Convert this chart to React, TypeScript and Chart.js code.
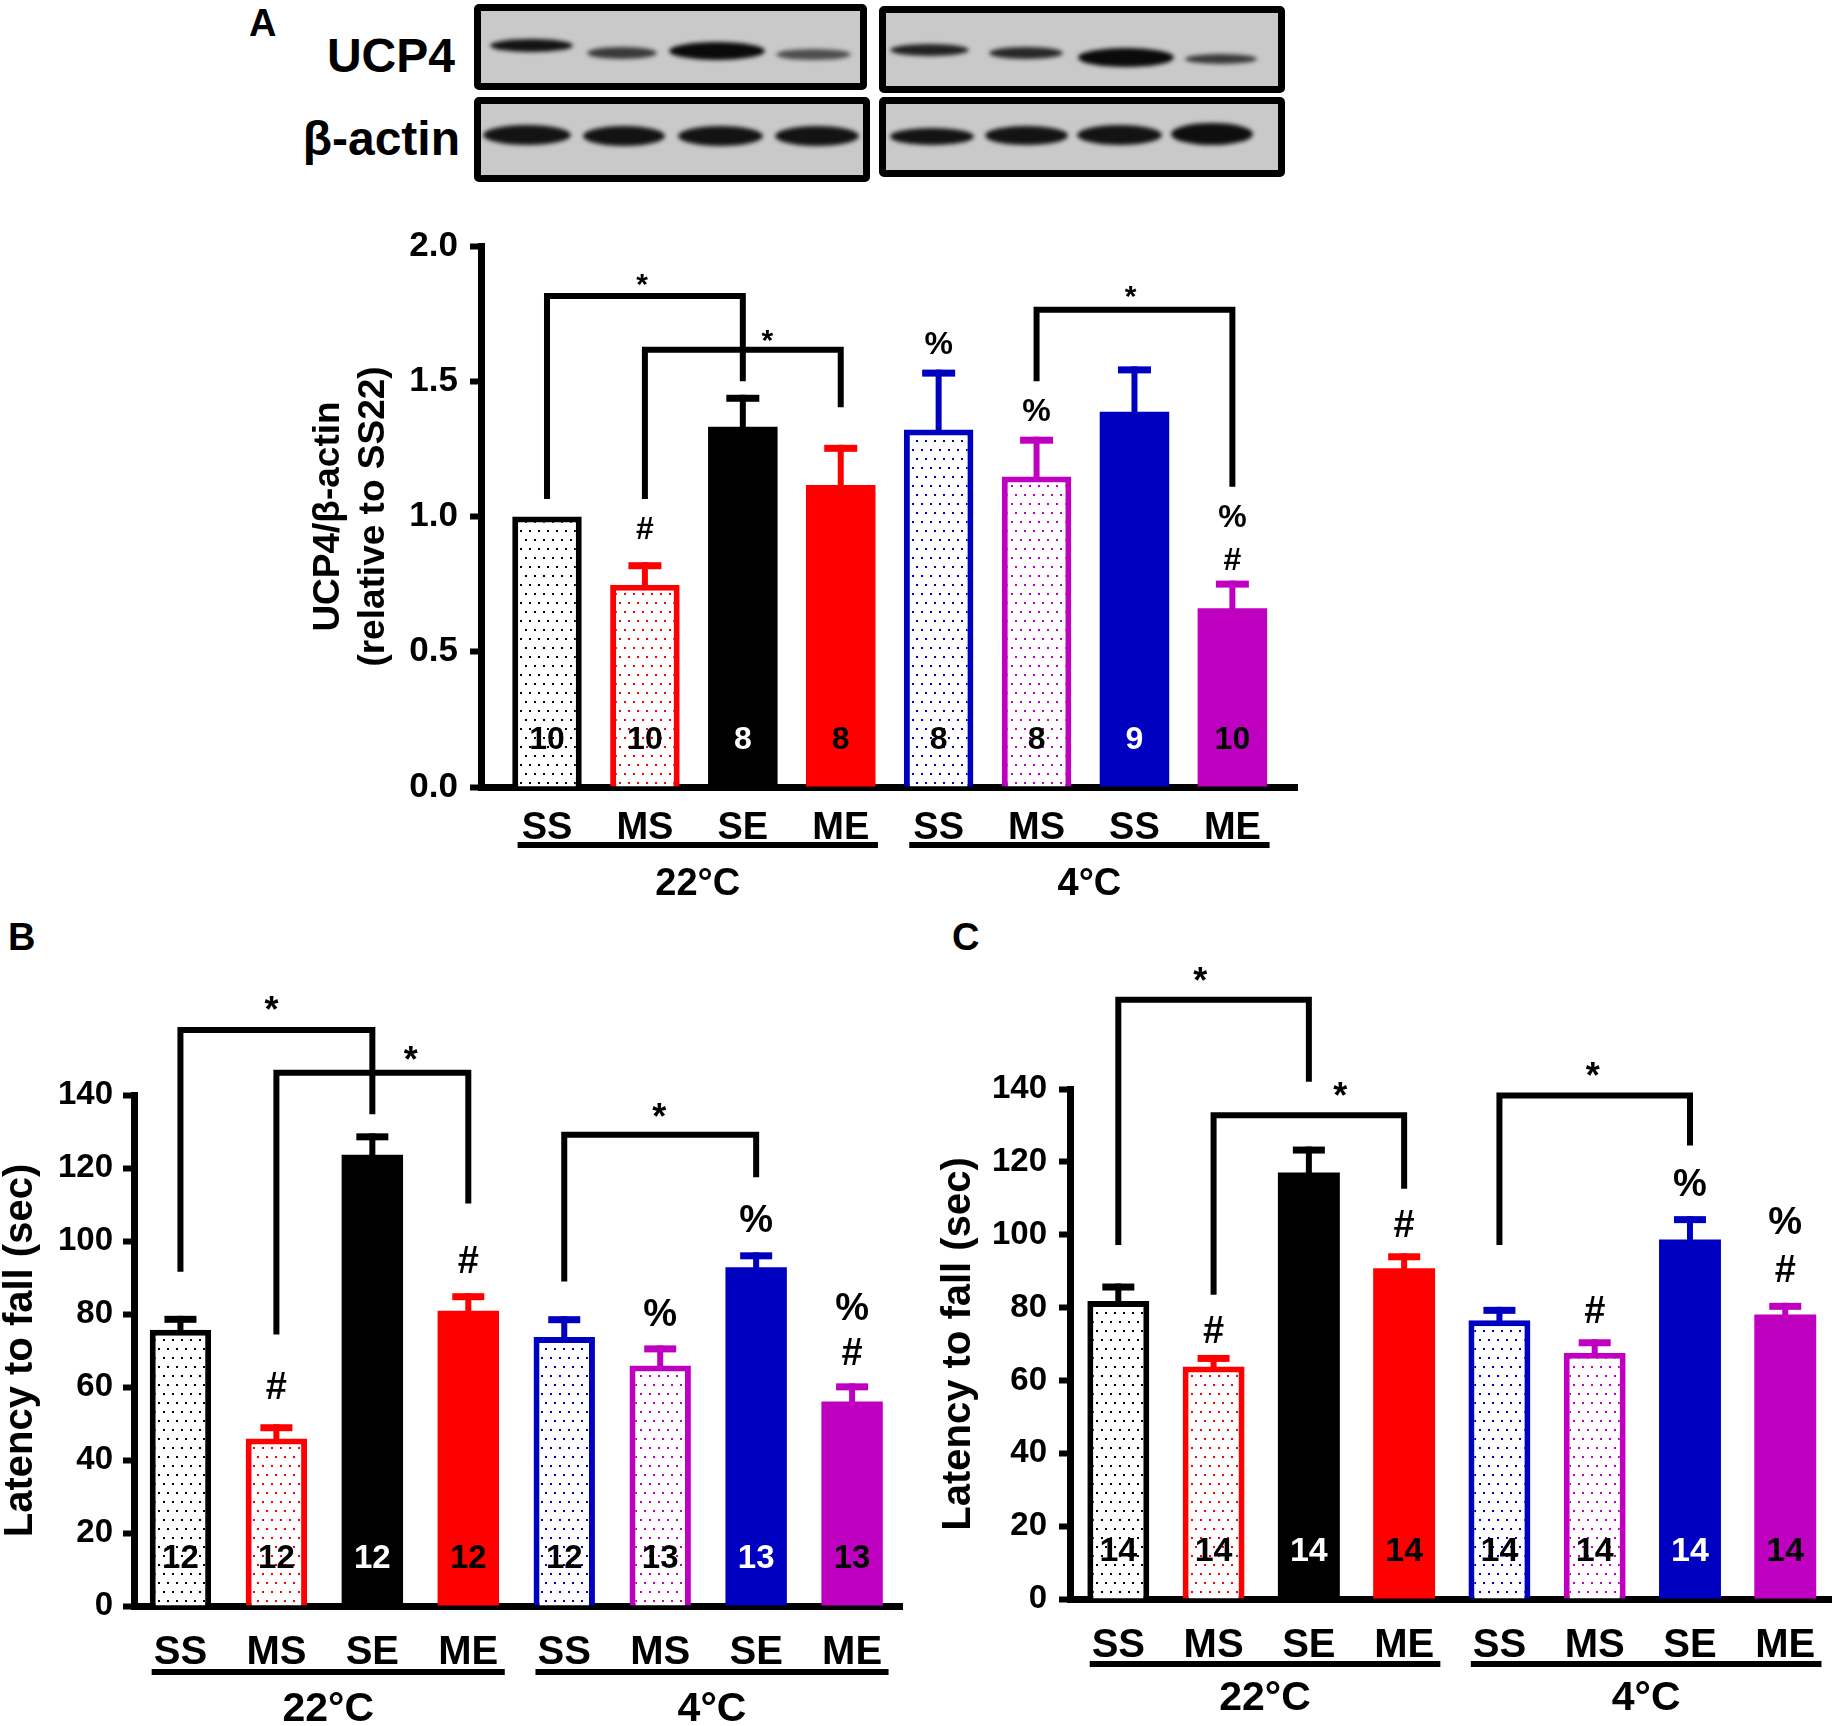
import React, { useEffect, useRef } from 'react';
import { Chart, registerables } from 'chart.js';

Chart.register(...registerables);

const FONT = 'Arial, "Liberation Sans", Helvetica, sans-serif';

// ---- data ----
const groupNames = ['22°C', '4°C'];
const groupStarts = [0, 4];
const groupEnds = [3, 7];

// A: UCP4 / beta-actin
const ucpCategories = ['SS', 'MS', 'SE', 'ME', 'SS', 'MS', 'SS', 'ME'];
const ucpMean = [1.0, 0.748, 1.332, 1.116, 1.322, 1.148, 1.387, 0.661];
const ucpSemTop = [1.0, 0.831, 1.45, 1.265, 1.543, 1.295, 1.555, 0.763];
const ucpN = ['10', '10', '8', '8', '8', '8', '9', '10'];
const ucpTicks = [0, 0.5, 1.0, 1.5, 2.0];
// [from, to, left leg end, bar height, right leg end, star x, star y]
const ucpBrackets = [
  [0, 2, 1.065, 1.815, 1.5, 0.97, 1.885],
  [1, 3, 1.065, 1.616, 1.404, 2.25, 1.68],
  [5, 7, 1.5, 1.764, 1.11, 5.96, 1.84],
];
// [bar, symbol, y]
const ucpMarks = [
  [1, '#', 0.958],
  [4, '%', 1.642],
  [5, '%', 1.397],
  [7, '%', 1.002],
  [7, '#', 0.846],
];

// B: latency to fall
const rotaCategories = ['SS', 'MS', 'SE', 'ME', 'SS', 'MS', 'SE', 'ME'];
const rotaMean = [75.7, 45.9, 123.6, 80.9, 73.7, 65.9, 92.8, 56.0];
const rotaSemTop = [79.5, 49.8, 129.5, 85.7, 79.4, 71.4, 96.9, 61.0];
const rotaN = ['12', '12', '12', '12', '12', '13', '13', '13'];
const rotaBrackets = [
  [0, 2, 91.6, 157.8, 134.7, 0.95, 165.5],
  [1, 3, 74.4, 146.1, 110.3, 2.4, 152],
  [4, 6, 88.9, 129.1, 117.5, 4.99, 136.2],
];
const rotaMarks = [
  [1, '#', 60.4],
  [3, '#', 95],
  [5, '%', 80.4],
  [6, '%', 106.2],
  [7, '%', 82.2],
  [7, '#', 69.9],
];

// C: latency to fall
const rotcCategories = ['SS', 'MS', 'SE', 'ME', 'SS', 'MS', 'SE', 'ME'];
const rotcMean = [81.8, 63.8, 117.1, 90.8, 76.5, 67.6, 98.7, 78.1];
const rotcSemTop = [86.6, 67.0, 124.2, 94.9, 80.2, 71.3, 105.1, 81.3];
const rotcN = ['14', '14', '14', '14', '14', '14', '14', '14'];
const rotcBrackets = [
  [0, 2, 97.2, 164.5, 142, 0.86, 172],
  [1, 3, 83.5, 132.8, 112.6, 2.33, 140.3],
  [4, 6, 97.2, 138.2, 124.5, 4.98, 146],
];
const rotcMarks = [
  [1, '#', 74],
  [3, '#', 103],
  [5, '#', 79.4],
  [6, '%', 114.5],
  [7, '%', 104],
  [7, '#', 90.8],
];

const latencyTicks = [0, 20, 40, 60, 80, 100, 120, 140];

// ---- styling ----
const barColors = ['#000000', '#ff0000', '#000000', '#ff0000', '#0000c0', '#c000c0', '#0000c0', '#c000c0'];
const barHollow = [true, true, false, false, true, true, false, false];
const countColors = ['#000', '#000', '#fff', '#000', '#000', '#000', '#fff', '#000'];

function dotPattern(color: string): CanvasPattern | string {
  const c = document.createElement('canvas');
  c.width = 9;
  c.height = 18;
  const g = c.getContext('2d');
  if (!g) return '#fff';
  g.fillStyle = '#fff';
  g.fillRect(0, 0, 9, 18);
  g.fillStyle = color;
  g.fillRect(1, 1, 2, 2);
  g.fillRect(5, 10, 2, 2);
  return g.createPattern(c, 'repeat') || '#fff';
}

const BarPanel = (p: any) => {
  const chartRef = useRef<HTMLCanvasElement | null>(null);
  const chartInstance = useRef<Chart | null>(null);

  useEffect(() => {
    if (!chartRef.current) return;
    const ctx = chartRef.current.getContext('2d');
    if (!ctx) return;
    if (chartInstance.current) chartInstance.current.destroy();

    const decor = {
      id: 'decor',
      afterDatasetsDraw(chart: any) {
        const c = chart.ctx;
        const xs = chart.scales.x;
        const ys = chart.scales.y;
        const bottom = chart.chartArea.bottom;
        const unit = xs.getPixelForValue(1) - xs.getPixelForValue(0);
        c.save();
        // error bars (upper only)
        p.means.forEach((m: number, i: number) => {
          const top = p.semTop[i];
          if (top <= m) return;
          const x = xs.getPixelForValue(i);
          const y0 = ys.getPixelForValue(m);
          const y1 = ys.getPixelForValue(top);
          c.fillStyle = barColors[i];
          c.fillRect(x - 3, y1, 6, y0 - y1 + 2);
          c.fillRect(x - p.capWidth / 2, y1, p.capWidth, 7);
        });
        c.textAlign = 'center';
        c.textBaseline = 'alphabetic';
        // n per group
        c.font = `bold ${p.countSize}px ${FONT}`;
        p.counts.forEach((n: string, i: number) => {
          c.fillStyle = countColors[i];
          c.fillText(n, xs.getPixelForValue(i), bottom - 50 + 0.36 * p.countSize);
        });
        // significance brackets
        c.strokeStyle = '#000';
        c.fillStyle = '#000';
        c.lineWidth = 6;
        c.lineJoin = 'miter';
        c.lineCap = 'butt';
        p.brackets.forEach((b: number[]) => {
          const xa = xs.getPixelForValue(b[0]);
          const xb = xs.getPixelForValue(b[1]);
          const yt = ys.getPixelForValue(b[3]);
          c.beginPath();
          c.moveTo(xa, ys.getPixelForValue(b[2]));
          c.lineTo(xa, yt);
          c.lineTo(xb, yt);
          c.lineTo(xb, ys.getPixelForValue(b[4]));
          c.stroke();
          c.font = `bold ${p.starSize}px ${FONT}`;
          c.fillText('*', xs.getPixelForValue(b[5]), ys.getPixelForValue(b[6]) + 0.57 * p.starSize);
        });
        // # and % marks
        c.font = `bold ${p.markSize}px ${FONT}`;
        p.marks.forEach((mk: any[]) => {
          c.fillText(mk[1], xs.getPixelForValue(mk[0]), ys.getPixelForValue(mk[2]) + 0.36 * p.markSize);
        });
        // group underlines and temperature labels
        c.font = `bold ${p.groupSize}px ${FONT}`;
        groupNames.forEach((name, gi) => {
          const xa = xs.getPixelForValue(groupStarts[gi]) - 0.3 * unit;
          const xb = xs.getPixelForValue(groupEnds[gi]) + 0.38 * unit;
          c.fillRect(xa, bottom + p.lineOffset - 3, xb - xa, 6);
          c.fillText(name, (xa + xb) / 2, bottom + p.groupOffset + 0.36 * p.groupSize);
        });
        c.restore();
      },
    };

    chartInstance.current = new Chart(ctx, {
      type: 'bar',
      data: {
        datasets: [
          {
            data: p.means.map((v: number, i: number) => ({ x: i, y: v })),
            backgroundColor: barColors.map((col, i) => (barHollow[i] ? dotPattern(col) : col)),
            borderColor: barColors,
            borderWidth: barHollow.map((h) => (h ? 6 : 0)),
            borderSkipped: 'start',
            barPercentage: p.barPct,
            categoryPercentage: 1,
          },
        ],
      },
      options: {
        responsive: false,
        animation: false,
        layout: {
          padding: {
            left: 0,
            top: p.area.top,
            right: p.width - p.area.right,
            bottom: p.height - p.area.bottom - 100,
          },
        },
        plugins: {
          legend: { display: false },
          tooltip: { enabled: false },
        },
        scales: {
          x: {
            type: 'linear',
            min: p.xMin,
            max: p.xMax,
            offset: false,
            afterFit: (s: any) => {
              s.height = 100;
            },
            afterBuildTicks: (s: any) => {
              s.ticks = p.categories.map((_: string, i: number) => ({ value: i }));
            },
            ticks: {
              autoSkip: false,
              maxRotation: 0,
              padding: p.labelPad,
              color: '#000',
              font: { family: FONT, size: p.labelSize, weight: 'bold' },
              callback: (v: any) => p.categories[Math.round(Number(v))] ?? '',
            },
            grid: { display: false },
            border: { display: true, color: '#000', width: 7 },
          },
          y: {
            min: 0,
            max: p.yTicks[p.yTicks.length - 1],
            afterFit: (s: any) => {
              s.width = p.area.left;
            },
            afterBuildTicks: (s: any) => {
              s.ticks = p.yTicks.map((v: number) => ({ value: v }));
            },
            ticks: {
              padding: p.tickPad,
              color: '#000',
              font: { family: FONT, size: p.tickSize, weight: 'bold' },
              callback: (v: any) => Number(v).toFixed(p.decimals),
            },
            grid: {
              display: true,
              drawOnChartArea: false,
              drawTicks: true,
              tickLength: 11,
              tickWidth: 6,
              tickColor: '#000',
              color: '#000',
            },
            border: { display: true, color: '#000', width: 7 },
            title: {
              display: true,
              text: p.title,
              color: '#000',
              font: { family: FONT, size: p.titleSize, weight: 'bold', lineHeight: p.titleLine },
              padding: { top: p.titlePad, bottom: 0 },
            },
          },
        },
      },
      plugins: [decor],
    } as any);

    return () => {
      if (chartInstance.current) {
        chartInstance.current.destroy();
        chartInstance.current = null;
      }
    };
  }, []);

  return (
    <div style={{ position: 'absolute', left: p.left, top: p.top, width: p.width, height: p.height }}>
      <canvas ref={chartRef} width={p.width} height={p.height} style={{ width: p.width, height: p.height }} />
    </div>
  );
};

// western blot strips (decoration for panel A)
const blotBoxes = [
  { l: 474, t: 4, w: 393, h: 86 },
  { l: 879, t: 6, w: 406, h: 87 },
  { l: 474, t: 97, w: 396, h: 85 },
  { l: 879, t: 97, w: 406, h: 80 },
];
const blotBands = [
  // UCP4
  [490, 39, 83, 13, 0.95], [587, 47, 70, 12, 0.75], [669, 42, 96, 18, 1.0], [776, 49, 75, 11, 0.65],
  [890, 44, 79, 12, 0.88], [989, 47, 74, 12, 0.85], [1078, 48, 96, 19, 1.0], [1185, 54, 72, 10, 0.75],
  // beta-actin
  [483, 125, 88, 20, 0.95], [583, 126, 82, 20, 0.95], [678, 126, 85, 20, 0.95], [775, 126, 84, 20, 0.95],
  [890, 128, 84, 17, 0.95], [985, 126, 83, 19, 0.95], [1077, 125, 85, 20, 0.95], [1171, 123, 82, 22, 0.98],
];

const Blot = () => (
  <>
    {blotBoxes.map((b, i) => (
      <div
        key={'box' + i}
        style={{
          position: 'absolute',
          left: b.l,
          top: b.t,
          width: b.w,
          height: b.h,
          boxSizing: 'border-box',
          border: '7px solid #000',
          borderRadius: 5,
          background: '#c9c9c9',
        }}
      />
    ))}
    {blotBands.map((b, i) => (
      <div
        key={'band' + i}
        style={{
          position: 'absolute',
          left: b[0],
          top: b[1],
          width: b[2],
          height: b[3],
          borderRadius: '50%',
          background: `rgba(10,10,10,${b[4]})`,
          filter: 'blur(2px)',
        }}
      />
    ))}
    <div style={{ position: 'absolute', right: 1840 - 455, top: 28, fontSize: 48, fontWeight: 'bold', lineHeight: '56px' }}>
      UCP4
    </div>
    <div style={{ position: 'absolute', right: 1840 - 460, top: 111, fontSize: 48, fontWeight: 'bold', lineHeight: '56px' }}>
      β-actin
    </div>
  </>
);

const letterStyle: React.CSSProperties = {
  position: 'absolute',
  fontSize: 38,
  fontWeight: 'bold',
  lineHeight: '38px',
};

const App: React.FC = () => {
  useEffect(() => {
    document.body.style.margin = '0';
  }, []);

  return (
    <div style={{ position: 'relative', width: 1840, height: 1726, background: '#fff', fontFamily: FONT, color: '#000', overflow: 'hidden' }}>
      <div style={{ ...letterStyle, left: 249, top: 4 }}>A</div>
      <div style={{ ...letterStyle, left: 8, top: 918 }}>B</div>
      <div style={{ ...letterStyle, left: 952, top: 918 }}>C</div>
      <Blot />
      <BarPanel
        left={200}
        top={160}
        width={1140}
        height={760}
        area={{ left: 281, top: 86, right: 1097, bottom: 627 }}
        xMin={-0.674}
        xMax={7.66}
        categories={ucpCategories}
        means={ucpMean}
        semTop={ucpSemTop}
        counts={ucpN}
        brackets={ucpBrackets}
        marks={ucpMarks}
        yTicks={ucpTicks}
        decimals={1}
        title={['UCP4/β-actin', '(relative to SS22)']}
        titleSize={37}
        titleLine={1.2}
        titlePad={107}
        tickSize={35}
        tickPad={12}
        labelSize={38}
        labelPad={11}
        groupSize={38}
        countSize={32}
        markSize={32}
        starSize={30}
        lineOffset={58}
        groupOffset={94}
        capWidth={33}
        barPct={0.71}
      />
      <BarPanel
        left={0}
        top={960}
        width={920}
        height={766}
        area={{ left: 134, top: 135, right: 902, bottom: 646 }}
        xMin={-0.484}
        xMax={7.52}
        categories={rotaCategories}
        means={rotaMean}
        semTop={rotaSemTop}
        counts={rotaN}
        brackets={rotaBrackets}
        marks={rotaMarks}
        yTicks={latencyTicks}
        decimals={0}
        title="Latency to fall (sec)"
        titleSize={40}
        titleLine={1}
        titlePad={1}
        tickSize={33}
        tickPad={10}
        labelSize={40}
        labelPad={15}
        groupSize={41}
        countSize={33}
        markSize={38}
        starSize={36}
        lineOffset={66}
        groupOffset={100}
        capWidth={32}
        barPct={0.64}
      />
      <BarPanel
        left={920}
        top={960}
        width={920}
        height={766}
        area={{ left: 150, top: 129, right: 911, bottom: 639 }}
        xMin={-0.507}
        xMax={7.48}
        categories={rotcCategories}
        means={rotcMean}
        semTop={rotcSemTop}
        counts={rotcN}
        brackets={rotcBrackets}
        marks={rotcMarks}
        yTicks={latencyTicks}
        decimals={0}
        title="Latency to fall (sec)"
        titleSize={40}
        titleLine={1}
        titlePad={19}
        tickSize={33}
        tickPad={12}
        labelSize={40}
        labelPad={15}
        groupSize={41}
        countSize={34}
        markSize={38}
        starSize={36}
        lineOffset={65}
        groupOffset={96}
        capWidth={32}
        barPct={0.65}
      />
    </div>
  );
};

export default App;
